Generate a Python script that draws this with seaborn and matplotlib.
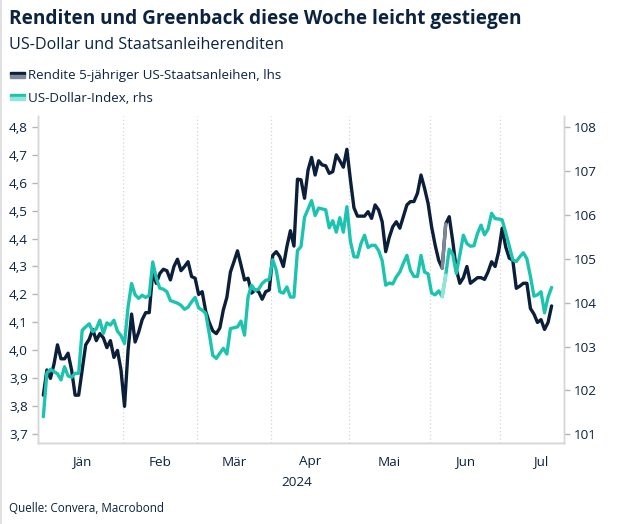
import numpy as np
import pandas as pd
import matplotlib
matplotlib.use("Agg")
import matplotlib.pyplot as plt
import seaborn as sns
from matplotlib.patches import Rectangle
from matplotlib.lines import Line2D

# 5-year US treasury yield (lhs), business days 2024-01-01 .. 2024-07-19
yield_5y = [
    3.84, 3.93, 3.90, 3.95, 4.02, 3.97, 3.97, 3.99, 3.93, 3.84, 3.84, 3.93, 4.02, 4.04, 4.075, 4.035,
    4.06, 4.045, 4.01, 4.035, 3.975, 4.00, 3.93,
    3.80, 4.00, 4.13, 4.03, 4.065, 4.11, 4.135, 4.135, 4.28, 4.24, 4.275, 4.29, 4.285, 4.252, 4.30,
    4.326, 4.285, 4.30, 4.317, 4.264, 4.258,
    4.20, 4.21, 4.14, 4.10, 4.07, 4.06, 4.08, 4.145, 4.19, 4.28, 4.317, 4.356, 4.305, 4.252, 4.258,
    4.205, 4.216, 4.21, 4.183, 4.21, 4.216,
    4.34, 4.353, 4.335, 4.30, 4.371, 4.428, 4.373, 4.612, 4.61, 4.544, 4.645, 4.69, 4.627, 4.678,
    4.663, 4.66, 4.633, 4.639, 4.699, 4.678, 4.655, 4.719,
    4.61, 4.51, 4.48, 4.48, 4.48, 4.496, 4.472, 4.52, 4.502, 4.46, 4.353, 4.404, 4.442, 4.46, 4.437,
    4.478, 4.52, 4.532, 4.532, 4.562, 4.627, 4.58, 4.526,
    4.442, 4.377, 4.323, 4.294, 4.452, 4.478, 4.39, 4.29, 4.24, 4.26, 4.30, 4.24, 4.25, 4.26, 4.26,
    4.254, 4.281, 4.317, 4.30, 4.353,
    4.437, 4.37, 4.33, 4.323, 4.222, 4.23, 4.24, 4.24, 4.15, 4.13, 4.10, 4.11, 4.075, 4.10, 4.159,
]

# US dollar index (rhs)
dxy = [
    101.40, 102.40, 102.48, 102.43, 102.38, 102.24, 102.54, 102.33, 102.30, 102.39, 102.39, 103.37,
    103.45, 103.52, 103.34, 103.40, 103.60, 103.30, 103.54, 103.49, 103.60, 103.35, 103.25,
    103.07, 103.90, 104.44, 104.18, 104.10, 104.17, 104.12, 104.17, 104.93, 104.56, 104.33, 104.31,
    104.25, 104.05, 104.02, 103.99, 103.94, 103.85, 103.90, 104.02, 104.12,
    103.88, 103.83, 103.76, 103.30, 102.80, 102.73, 102.85, 102.96, 102.83, 103.41, 103.43, 103.45,
    103.58, 103.26, 104.13, 104.40, 104.28, 104.31, 104.44, 104.51, 104.53,
    104.98, 104.74, 104.25, 104.22, 104.36, 104.13, 104.13, 105.19, 105.28, 105.95, 106.14, 106.33,
    105.99, 106.16, 106.14, 106.12, 105.71, 105.87, 105.61, 105.94, 105.61, 106.19,
    105.40, 105.05, 105.04, 105.35, 105.54, 105.26, 105.31, 105.31, 105.19, 104.96, 104.40, 104.45,
    104.43, 104.59, 104.70, 104.90, 105.08, 104.74, 104.60, 104.60, 105.08, 104.70, 104.66,
    104.22, 104.18, 104.27, 104.14, 104.63, 105.22, 105.10, 104.67, 105.09, 105.54, 105.35, 105.29,
    105.30, 105.58, 105.77, 105.55, 105.68, 106.04, 105.92, 105.91,
    105.89, 105.60, 105.30, 104.98, 104.94, 105.05, 105.14, 105.00, 104.60, 104.15, 104.18, 104.25,
    103.77, 104.13, 104.35,
]

month_labels = ["Jän", "Feb", "Mär", "Apr", "Mai", "Jun", "Jul"]
left_ticks = [3.7, 3.8, 3.9, 4.0, 4.1, 4.2, 4.3, 4.4, 4.5, 4.6, 4.7, 4.8]
right_ticks = [101, 102, 103, 104, 105, 106, 107, 108]
gap = [113, 114]  # segment drawn in a lighter shade

dates = pd.bdate_range("2024-01-01", "2024-07-19")
df = pd.DataFrame({"x": np.arange(len(dates)), "date": dates,
                   "yield": yield_5y, "dxy": dxy})

# month boundaries and label centres (full months of business days)
all_days = pd.bdate_range("2024-01-01", "2024-07-31")
counts = pd.Series(1, index=all_days).groupby(all_days.month).sum().values
starts = np.concatenate([[0], np.cumsum(counts)[:-1]]) - 0.5
centers = starts + counts / 2.0

DARK = "#0b1f3a"
DARK_LIGHT = "#7d8999"
TEAL = "#1cc4b0"
TEAL_LIGHT = "#93e4da"
TXT = "#0c2340"

sns.set_style("white")
plt.rcParams["font.family"] = ["Open Sans", "DejaVu Sans"]

W, H = 622, 524
fig = plt.figure(figsize=(W / 100, H / 100), dpi=100)

def fx(px):
    return px / W

def fy(py):
    return 1 - py / H

ax = fig.add_axes([fx(37.7), fy(443), fx(564.3 - 37.7), (443 - 116) / H])
ax2 = ax.twinx()

sns.lineplot(data=df, x="x", y="yield", ax=ax, color=DARK, lw=2.4, zorder=3)
sns.lineplot(data=df.iloc[gap], x="x", y="yield", ax=ax, color=DARK_LIGHT, lw=2.4, zorder=4)
sns.lineplot(data=df, x="x", y="dxy", ax=ax2, color=TEAL, lw=2.4, zorder=3)
sns.lineplot(data=df.iloc[gap], x="x", y="dxy", ax=ax2, color=TEAL_LIGHT, lw=2.4, zorder=4)

ax.set_xlim(-1.6, 147.6)
ax.set_ylim(3.669, 4.838)
ax2.set_ylim(100.80, 108.26)

ax.set_yticks(left_ticks)
ax.set_yticklabels([f"{v:.1f}".replace(".", ",") for v in left_ticks])
ax2.set_yticks(right_ticks)
ax2.set_yticklabels([str(v) for v in right_ticks])

ax.set_xticks(starts)
ax.set_xticklabels([])
ax.set_xticks(centers, minor=True)
ax.set_xticklabels(month_labels, minor=True)
ax.tick_params(axis="x", which="major", length=5, width=1, color="#b5b5b5", direction="out")
ax.tick_params(axis="x", which="minor", length=0, pad=9, labelsize=9.7, labelcolor=TXT)
ax.tick_params(axis="y", length=4, width=1, color="#b5b5b5", labelsize=9.7, labelcolor=TXT, pad=3)
ax2.tick_params(axis="y", length=4, width=1, color="#b5b5b5", labelsize=9.7, labelcolor=TXT, pad=3)
ax.xaxis.get_major_ticks()[0].tick1line.set_color(DARK)

for s in starts[1:]:
    ax.axvline(s, color="#d4d4d4", lw=0.9, ls=(0, (1, 2)), zorder=1)

for a in (ax, ax2):
    a.set_xlabel("")
    a.set_ylabel("")
    a.spines["top"].set_visible(False)
    for side in ("left", "right", "bottom"):
        a.spines[side].set_color("#d6d6d6")
        a.spines[side].set_linewidth(1)
ax.spines["bottom"].set_color("#c4c4c4")

fig.text(fx(297), fy(483), "2024", ha="center", va="center", fontsize=9.7, color=TXT)

fig.text(fx(9), fy(19), "Renditen und Greenback diese Woche leicht gestiegen",
         ha="left", va="center", fontsize=13.7, fontweight="bold", color=TXT)
fig.text(fx(9), fy(45), "US-Dollar und Staatsanleiherenditen",
         ha="left", va="center", fontsize=11.6, color=TXT)
fig.text(fx(28), fy(76), "Rendite 5-jähriger US-Staatsanleihen, lhs",
         ha="left", va="center", fontsize=9.6, color=TXT)
fig.text(fx(28), fy(98), "US-Dollar-Index, rhs",
         ha="left", va="center", fontsize=9.6, color=TXT)
fig.text(fx(9), fy(508), "Quelle: Convera, Macrobond",
         ha="left", va="center", fontsize=8.4, color=TXT)

for yc, c1, c2 in ((76, DARK, DARK_LIGHT), (98, TEAL, TEAL_LIGHT)):
    fig.patches.append(Rectangle((fx(10), fy(yc - 1)), fx(15), 3 / H, color=c1,
                                 transform=fig.transFigure, figure=fig))
    fig.patches.append(Rectangle((fx(10), fy(yc + 2)), fx(15), 3 / H, color=c2,
                                 transform=fig.transFigure, figure=fig))

fig.lines.append(Line2D([fx(1), fx(1)], [0, 1], color="#e0e0e0", lw=1.5,
                        transform=fig.transFigure, figure=fig))

fig.savefig("out.png", dpi=100)
